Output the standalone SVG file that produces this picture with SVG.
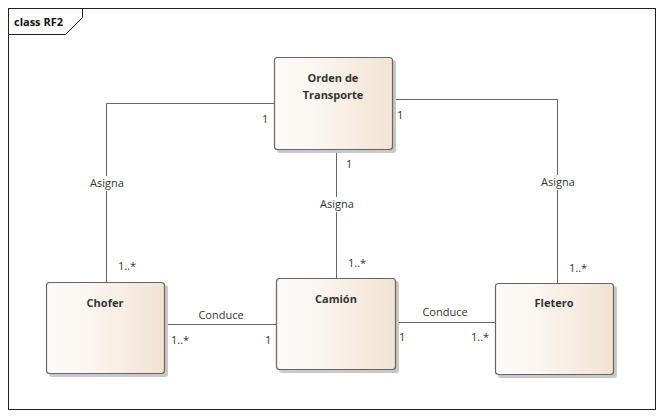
<svg xmlns="http://www.w3.org/2000/svg" width="664" height="418" viewBox="0 0 664 418">
<defs>
<linearGradient id="g" x1="0" y1="0" x2="1" y2="0">
<stop offset="0" stop-color="#fdfaf7"/>
<stop offset="0.35" stop-color="#fbf6f1"/>
<stop offset="1" stop-color="#f2e2d2"/>
</linearGradient>
<style>
text{font-family:"Open Sans","Noto Sans","Liberation Sans",sans-serif;font-size:11px;fill:#333}
.t{font-weight:bold;text-anchor:middle}
.l{text-anchor:middle}
.sh{fill:#c8c8c8}
.bx{fill:url(#g);stroke:#666;stroke-width:1.2}
.c{stroke:#666;stroke-width:1;fill:none}
.lb{fill:#fff}
</style>
</defs>
<rect x="0" y="0" width="664" height="418" fill="#fff"/>
<g id="frame">
<rect x="8.5" y="8.5" width="647" height="401" fill="none" stroke="#222" stroke-width="1"/>
<path d="M8.5 34.5 H65.5 L82.5 17.5 V8.5" fill="none" stroke="#222" stroke-width="1"/>
<text x="14" y="26" style="font-weight:bold;fill:#111">class RF2</text>
</g>
<g id="connectors">
<path class="c" d="M106.5 282 V103.5 H274"/>
<path class="c" d="M392 99.5 H557.5 V283"/>
<path class="c" d="M336.5 150 V278"/>
<path class="c" d="M164 324.5 H276"/>
<path class="c" d="M396 322.5 H495"/>
<rect class="lb" x="86" y="176" width="42" height="15"/>
<text class="l" x="107" y="187">Asigna</text>
<rect class="lb" x="316" y="197" width="42" height="15"/>
<text class="l" x="337" y="208">Asigna</text>
<rect class="lb" x="536" y="175" width="42" height="15"/>
<text class="l" x="558" y="186">Asigna</text>
<text class="l" x="221" y="319">Conduce</text>
<text class="l" x="445" y="316">Conduce</text>
<text x="262" y="123">1</text>
<text x="397" y="119">1</text>
<text x="346" y="168">1</text>
<text x="118" y="270">1..*</text>
<text x="348" y="267">1..*</text>
<text x="569" y="272">1..*</text>
<text x="171" y="344">1..*</text>
<text x="265" y="344">1</text>
<text x="399" y="341">1</text>
<text x="471" y="341">1..*</text>
</g>
<g id="orden">
<rect class="sh" x="277" y="60" width="119" height="93" rx="3"/>
<rect class="bx" x="274.5" y="57.5" width="118" height="92" rx="3"/>
<text class="t" x="333" y="82">Orden de</text>
<text class="t" x="333" y="99">Transporte</text>
</g>
<g id="chofer">
<rect class="sh" x="49" y="285" width="119" height="92" rx="3"/>
<rect class="bx" x="46.5" y="282.5" width="118" height="91" rx="3"/>
<text class="t" x="105" y="307">Chofer</text>
</g>
<g id="camion">
<rect class="sh" x="279" y="281" width="120" height="92" rx="3"/>
<rect class="bx" x="276.5" y="278.5" width="119" height="91" rx="3"/>
<text class="t" x="336" y="303">Camión</text>
</g>
<g id="fletero">
<rect class="sh" x="498" y="286" width="119" height="92" rx="3"/>
<rect class="bx" x="495.5" y="283.5" width="118" height="91" rx="3"/>
<text class="t" x="554" y="307">Fletero</text>
</g>
</svg>
